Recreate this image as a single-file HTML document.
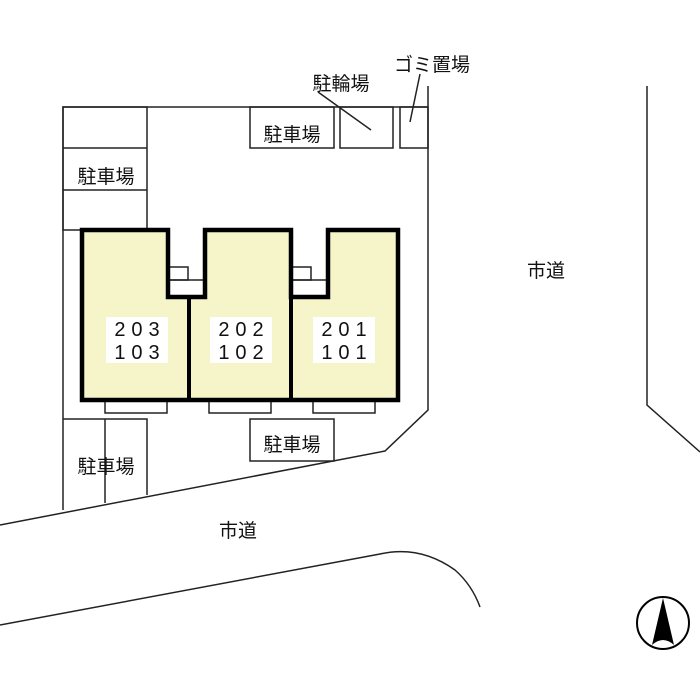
<!DOCTYPE html>
<html><head><meta charset="utf-8"><style>
html,body{margin:0;padding:0;background:#fff;}
svg{display:block;}
text{font-family:"Liberation Sans","Noto Sans CJK JP",sans-serif;fill:#111;}
</style></head><body>
<svg width="700" height="700" viewBox="0 0 700 700">
<g fill="none" stroke="#222" stroke-width="1.5">
<polyline points="63,510 63,107 428,107"/>
<polyline points="428,86 428,410 385,451 0,525"/>
<rect x="63" y="107" width="84" height="123"/>
<line x1="63" y1="148" x2="147" y2="148"/>
<line x1="63" y1="190" x2="147" y2="190"/>
<rect x="250" y="107" width="84" height="41"/>
<rect x="340" y="107" width="53" height="41"/>
<rect x="400" y="107" width="28" height="41"/>
<line x1="318" y1="92" x2="371" y2="130"/>
<line x1="420" y1="74" x2="410" y2="122"/>
<polyline points="63,419 147,419 147,495"/>
<line x1="105" y1="419" x2="105" y2="503"/>
<rect x="250" y="419" width="84" height="42"/>
<rect x="105" y="400" width="62" height="13"/>
<rect x="209" y="400" width="62" height="13"/>
<rect x="313" y="400" width="62" height="13"/>
<rect x="168" y="267" width="20" height="13"/>
<rect x="168" y="280" width="37" height="17"/>
<rect x="291" y="267" width="20" height="13"/>
<rect x="291" y="280" width="37" height="17"/>
<polyline points="647,86 647,405 700,452"/>
<path d="M0,625 L380,554 Q420,545 455,570 Q472,585 480,607"/>
</g>
<path d="M82,230 L168,230 L168,297 L205,297 L205,230 L291,230 L291,297 L328,297 L328,230 L398,230 L398,400 L82,400 Z" fill="#f5f5c9" stroke="#000" stroke-width="4.5"/>
<line x1="189" y1="297" x2="189" y2="400" stroke="#000" stroke-width="4"/>
<line x1="291" y1="297" x2="291" y2="400" stroke="#000" stroke-width="4"/>
<rect x="106" y="317" width="62" height="46" fill="#fff"/>
<rect x="210" y="317" width="62" height="46" fill="#fff"/>
<rect x="313" y="317" width="62" height="46" fill="#fff"/>
<g font-size="20" text-anchor="middle" letter-spacing="6">
<text x="140" y="336">203</text><text x="140" y="359">103</text>
<text x="244" y="336">202</text><text x="244" y="359">102</text>
<text x="347" y="336">201</text><text x="347" y="359">101</text>
</g>
<g font-size="19" text-anchor="middle">
<text x="292" y="141">駐車場</text>
<text x="106" y="183">駐車場</text>
<text x="292" y="451">駐車場</text>
<text x="106" y="473">駐車場</text>
<text x="341" y="90">駐輪場</text>
<text x="432" y="71">ゴミ置場</text>
<text x="546" y="277">市道</text>
<text x="238" y="537">市道</text>
</g>
<circle cx="663" cy="623" r="26" fill="none" stroke="#000" stroke-width="2"/>
<path d="M663,598 L652,645 Q663,635 674,645 Z" fill="#000"/>
</svg>
</body></html>
